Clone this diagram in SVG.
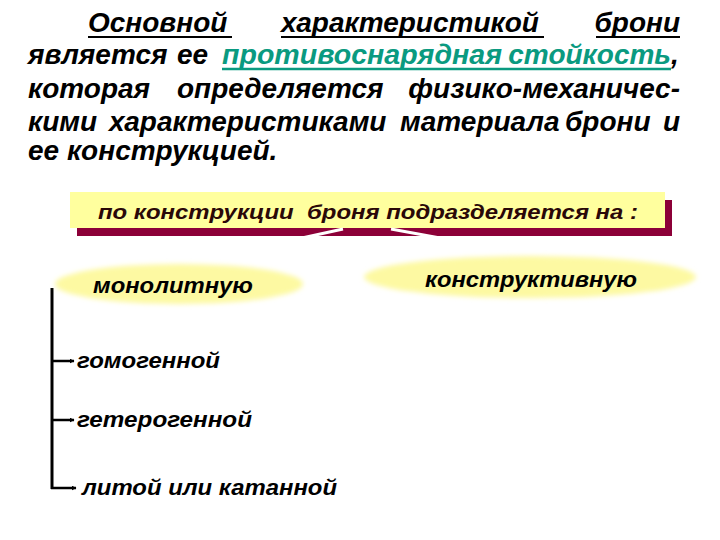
<svg xmlns="http://www.w3.org/2000/svg" width="720" height="540" viewBox="0 0 720 540">
<style>
.t{font-family:"Liberation Sans",Arial,sans-serif;font-weight:bold;font-style:italic;fill:#000}
.p{font-size:28px}
.s{font-size:22px}
.e{text-anchor:end}
.ul{stroke:#000;stroke-width:2}
.tl{stroke:#0a9a80;stroke-width:2.5}
.teal{fill:#0a9a80}
</style>
<defs>
<filter id="soft" x="-10%" y="-30%" width="120%" height="160%"><feGaussianBlur stdDeviation="2.5"/></filter>
<marker id="ah" viewBox="0 0 10 10" refX="9" refY="5" markerWidth="5" markerHeight="5" orient="auto" markerUnits="userSpaceOnUse"><path d="M0,0 L10,5 L0,10 z" fill="#000"/></marker>
</defs>
<rect width="720" height="540" fill="#fff"/>

<g id="paragraph">
<text class="t p" x="88" y="32">Основной</text>
<text class="t p" x="281" y="32">характеристикой</text>
<text class="t p e" x="680" y="32">брони</text>
<line class="ul" x1="88" y1="37" x2="232" y2="37"/>
<line class="ul" x1="281" y1="37" x2="544" y2="37"/>
<line class="ul" x1="596" y1="37" x2="680" y2="37"/>

<text class="t p" x="28" y="64">является</text>
<text class="t p" x="177" y="64">ее</text>
<text class="t p teal" x="222" y="64" textLength="280" lengthAdjust="spacingAndGlyphs">противоснарядная</text>
<text class="t p teal e" x="671" y="64">стойкость</text>
<text class="t p" x="671" y="64">,</text>
<line class="tl" x1="222" y1="69" x2="671" y2="69"/>

<text class="t p" x="28" y="98">которая</text>
<text class="t p" x="177" y="98">определяется</text>
<text class="t p e" x="680" y="98">физико-механичес-</text>

<text class="t p" x="28" y="131">кими</text>
<text class="t p" x="109" y="131">характеристиками</text>
<text class="t p" x="400" y="131">материала</text>
<text class="t p" x="565" y="131">брони</text>
<text class="t p e" x="680" y="131">и</text>

<text class="t p" x="28" y="160">ее конструкцией.</text>
</g>

<g id="banner">
<rect x="77" y="200" width="595" height="36" fill="#8c0038"/>
<rect x="70" y="192" width="595" height="36" fill="#ffff9e"/>
<text class="t" x="98" y="219" font-size="21" xml:space="preserve" textLength="540" lengthAdjust="spacingAndGlyphs" style="fill:#2a0808">по конструкции  броня подразделяется на :</text>
</g>

<g id="connectors">
<line x1="343" y1="229" x2="302" y2="238" stroke="#fff" stroke-width="3"/>
<line x1="391" y1="229" x2="440" y2="238" stroke="#fff" stroke-width="3"/>
<line x1="52" y1="288" x2="52" y2="489" stroke="#000" stroke-width="3"/>
<line x1="51" y1="361" x2="74" y2="361" stroke="#000" stroke-width="2.5" marker-end="url(#ah)"/>
<line x1="51" y1="420" x2="74" y2="420" stroke="#000" stroke-width="2.5" marker-end="url(#ah)"/>
<line x1="51" y1="488" x2="76" y2="488" stroke="#000" stroke-width="2.5" marker-end="url(#ah)"/>
</g>

<g id="monolithic">
<ellipse cx="179" cy="284" rx="124" ry="20" fill="#fdf9a2" filter="url(#soft)"/>
<text class="t s" x="93" y="293" textLength="160" lengthAdjust="spacingAndGlyphs">монолитную</text>
</g>

<g id="constructive">
<ellipse cx="530" cy="277" rx="166" ry="21" fill="#fdf9a2" filter="url(#soft)"/>
<text class="t s" x="425" y="287" textLength="212" lengthAdjust="spacingAndGlyphs">конструктивную</text>
</g>

<g id="homogeneous"><text class="t s" x="77" y="368" textLength="143" lengthAdjust="spacingAndGlyphs">гомогенной</text></g>
<g id="heterogeneous"><text class="t s" x="77" y="427" textLength="175" lengthAdjust="spacingAndGlyphs">гетерогенной</text></g>
<g id="cast-or-rolled"><text class="t s" x="82" y="495" textLength="255" lengthAdjust="spacingAndGlyphs">литой или катанной</text></g>
</svg>
